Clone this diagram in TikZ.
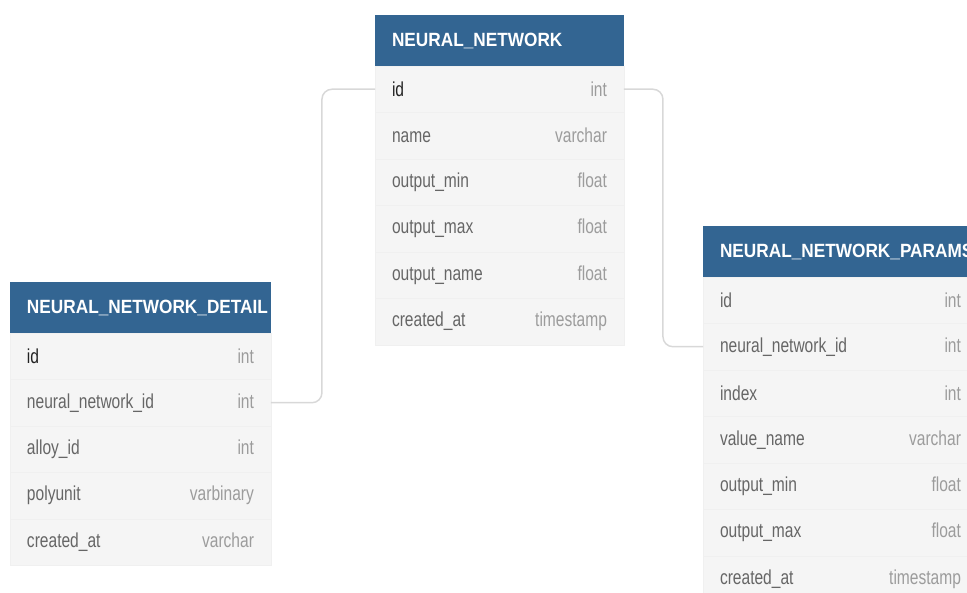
\documentclass[tikz,border=0pt]{standalone}
\usepackage{fontspec}
\setmainfont{Liberation Sans}
\newfontfamily\rowfont{Liberation Sans}[FakeStretch=0.77]
\newfontfamily\headfont{Liberation Sans}[FakeStretch=0.9]
\usetikzlibrary{positioning}
\definecolor{headblue}{HTML}{336592}
\definecolor{rowgray}{HTML}{F5F5F5}
\definecolor{linegray}{HTML}{F0F0F0}
\definecolor{fieldgray}{HTML}{666666}
\definecolor{typegray}{HTML}{9C9C9C}
\definecolor{idblack}{HTML}{222222}
\definecolor{wiregray}{HTML}{D8D8D8}

\begin{document}
\begin{tikzpicture}[x=0.02cm, y=-0.02cm, node distance=0pt]
% Define styles
\tikzstyle{header} = [rectangle, anchor=north west, minimum height=1.02cm, inner xsep=0.34cm, inner ysep=0pt, outer sep=0pt, align=left, fill=headblue, text=white, font=\headfont\fontsize{10.9}{12}\selectfont\bfseries]
\tikzstyle{row} = [rectangle, minimum height=0.93cm, inner xsep=0.34cm, inner ysep=0pt, outer sep=0pt, align=left, fill=rowgray, draw=linegray, text=fieldgray, font=\rowfont\fontsize{11.5}{13}\selectfont]
\tikzstyle{link} = [draw=wiregray, line width=0.85pt, rounded corners=0.2cm]
\clip (0,0) rectangle (967,592);
% NEURAL_NETWORK
\node (nn) [header, text width=4.30cm] at (375,15) {NEURAL\_NETWORK};
\node (nn0) [row, text width=4.30cm, text=idblack, below=of nn] {id \hfill \textcolor{typegray}{int}};
\node (nn1) [row, text width=4.30cm, below=of nn0] {name \hfill \textcolor{typegray}{varchar}};
\node (nn2) [row, text width=4.30cm, below=of nn1] {output\_min \hfill \textcolor{typegray}{float}};
\node (nn3) [row, text width=4.30cm, below=of nn2] {output\_max \hfill \textcolor{typegray}{float}};
\node (nn4) [row, text width=4.30cm, below=of nn3] {output\_name \hfill \textcolor{typegray}{float}};
\node (nn5) [row, text width=4.30cm, below=of nn4] {created\_at \hfill \textcolor{typegray}{timestamp}};
% NEURAL_NETWORK_DETAIL
\node (dn) [header, text width=4.54cm] at (10,282) {NEURAL\_NETWORK\_DETAIL};
\node (dn0) [row, text width=4.54cm, text=idblack, below=of dn] {id \hfill \textcolor{typegray}{int}};
\node (dn1) [row, text width=4.54cm, below=of dn0] {neural\_network\_id \hfill \textcolor{typegray}{int}};
\node (dn2) [row, text width=4.54cm, below=of dn1] {alloy\_id \hfill \textcolor{typegray}{int}};
\node (dn3) [row, text width=4.54cm, below=of dn2] {polyunit \hfill \textcolor{typegray}{varbinary}};
\node (dn4) [row, text width=4.54cm, below=of dn3] {created\_at \hfill \textcolor{typegray}{varchar}};
% NEURAL_NETWORK_PARAMS
\node (pp) [header, text width=4.82cm] at (703,226) {NEURAL\_NETWORK\_PARAMS};
\node (pp0) [row, text width=4.82cm, below=of pp] {id \hfill \textcolor{typegray}{int}};
\node (pp1) [row, text width=4.82cm, below=of pp0] {neural\_network\_id \hfill \textcolor{typegray}{int}};
\node (pp2) [row, text width=4.82cm, below=of pp1] {index \hfill \textcolor{typegray}{int}};
\node (pp3) [row, text width=4.82cm, below=of pp2] {value\_name \hfill \textcolor{typegray}{varchar}};
\node (pp4) [row, text width=4.82cm, below=of pp3] {output\_min \hfill \textcolor{typegray}{float}};
\node (pp5) [row, text width=4.82cm, below=of pp4] {output\_max \hfill \textcolor{typegray}{float}};
\node (pp6) [row, text width=4.82cm, below=of pp5] {created\_at \hfill \textcolor{typegray}{timestamp}};
% Draw links
\draw [link] (dn1.east) -- ++(51,0) |- (nn0.west);
\draw [link] (nn0.east) -- ++(39,0) |- (pp1.west);
\end{tikzpicture}
\end{document}
